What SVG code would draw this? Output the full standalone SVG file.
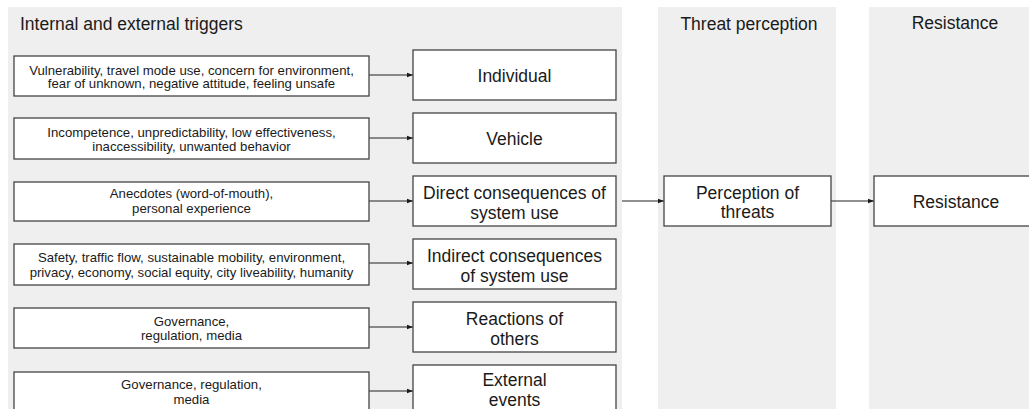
<svg xmlns="http://www.w3.org/2000/svg" width="1029" height="409" viewBox="0 0 1029 409">
<style>
.panel{fill:#efefef;stroke:none}
.box{fill:#ffffff;stroke:#444444;stroke-width:1.3}
.t{font-family:"Liberation Sans",Arial,sans-serif;fill:#1a1a1a;text-anchor:middle}
.title{font-size:17.5px}
.small{font-size:13.2px}
.big{font-size:17.5px}
.conn{stroke:#222222;stroke-width:1.1;fill:none;marker-end:url(#ah)}
</style>
<defs>
<marker id="ah" markerWidth="7" markerHeight="6" refX="6.5" refY="3" orient="auto" markerUnits="userSpaceOnUse">
<path d="M0,0.6 L6.5,3 L0,5.4 Z" fill="#1a1a1a"/>
</marker>
</defs>
<rect width="1029" height="409" fill="#ffffff"/>
<g id="panels">
<rect class="panel" x="8" y="7" width="614" height="410"/>
<rect class="panel" x="658" y="7" width="178" height="410"/>
<rect class="panel" x="869" y="7" width="170" height="410"/>
<text class="t title" x="20" y="30" style="text-anchor:start">Internal and external triggers</text>
<text class="t title" x="749" y="30">Threat perception</text>
<text class="t title" x="955" y="29">Resistance</text>
</g>
<g id="connectors">
<line class="conn" x1="369" y1="75" x2="413" y2="75"/>
<line class="conn" x1="369" y1="138" x2="413" y2="138"/>
<line class="conn" x1="369" y1="201" x2="413" y2="201"/>
<line class="conn" x1="369" y1="263" x2="413" y2="263"/>
<line class="conn" x1="369" y1="327" x2="413" y2="327"/>
<line class="conn" x1="369" y1="391" x2="413" y2="391"/>
<line class="conn" x1="622" y1="201" x2="664" y2="201"/>
<line class="conn" x1="831" y1="201" x2="874" y2="201"/>
</g>
<g id="trigger-individual">
<rect class="box" x="14" y="56" width="355" height="40"/>
<text class="t small" x="191.5" y="75">Vulnerability, travel mode use, concern for environment,</text>
<text class="t small" x="191.5" y="88">fear of unknown, negative attitude, feeling unsafe</text>
</g>
<g id="trigger-vehicle">
<rect class="box" x="14" y="118" width="355" height="41"/>
<text class="t small" x="191.5" y="137">Incompetence, unpredictability, low effectiveness,</text>
<text class="t small" x="191.5" y="151">inaccessibility, unwanted behavior</text>
</g>
<g id="trigger-direct">
<rect class="box" x="14" y="182" width="355" height="39"/>
<text class="t small" x="191.5" y="198">Anecdotes (word-of-mouth),</text>
<text class="t small" x="191.5" y="213">personal experience</text>
</g>
<g id="trigger-indirect">
<rect class="box" x="14" y="244" width="355" height="41"/>
<text class="t small" x="191.5" y="262">Safety, traffic flow, sustainable mobility, environment,</text>
<text class="t small" x="191.5" y="277">privacy, economy, social equity, city liveability, humanity</text>
</g>
<g id="trigger-reactions">
<rect class="box" x="14" y="308" width="355" height="40"/>
<text class="t small" x="191.5" y="326">Governance,</text>
<text class="t small" x="191.5" y="340">regulation, media</text>
</g>
<g id="trigger-external">
<rect class="box" x="14" y="372" width="355" height="50"/>
<text class="t small" x="191.5" y="389">Governance, regulation,</text>
<text class="t small" x="191.5" y="404">media</text>
</g>
<g id="individual">
<rect class="box" x="413" y="50" width="203" height="50"/>
<text class="t big" x="514.5" y="82">Individual</text>
</g>
<g id="vehicle">
<rect class="box" x="413" y="113" width="203" height="50"/>
<text class="t big" x="514.5" y="145">Vehicle</text>
</g>
<g id="direct-consequences">
<rect class="box" x="413" y="176" width="203" height="50"/>
<text class="t big" x="514.5" y="199">Direct consequences of</text>
<text class="t big" x="514.5" y="219">system use</text>
</g>
<g id="indirect-consequences">
<rect class="box" x="413" y="239" width="203" height="50"/>
<text class="t big" x="514.5" y="262">Indirect consequences</text>
<text class="t big" x="514.5" y="282">of system use</text>
</g>
<g id="reactions">
<rect class="box" x="413" y="302" width="203" height="50"/>
<text class="t big" x="514.5" y="325">Reactions of</text>
<text class="t big" x="514.5" y="345">others</text>
</g>
<g id="external-events">
<rect class="box" x="413" y="365" width="203" height="55"/>
<text class="t big" x="514.5" y="386">External</text>
<text class="t big" x="514.5" y="406">events</text>
</g>
<g id="perception">
<rect class="box" x="664" y="176" width="167" height="50"/>
<text class="t big" x="747.5" y="199">Perception of</text>
<text class="t big" x="747.5" y="218">threats</text>
</g>
<g id="resistance">
<rect class="box" x="874" y="176" width="170" height="50"/>
<text class="t big" x="956" y="208">Resistance</text>
</g>
</svg>
